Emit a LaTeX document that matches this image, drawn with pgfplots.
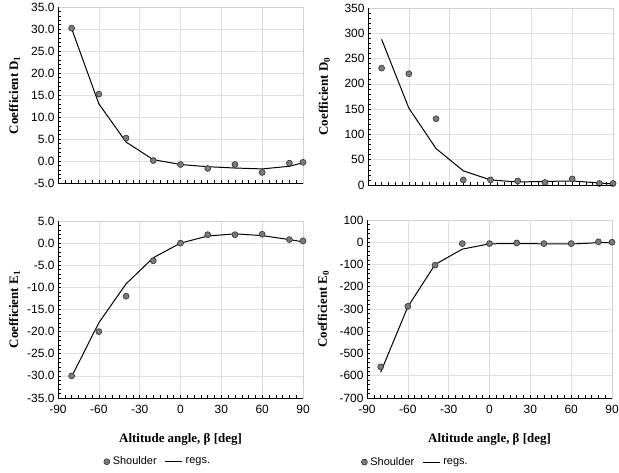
\documentclass[border=0pt]{standalone}
\usepackage{fontspec}
\setmainfont{Liberation Sans}
\newfontfamily\tnr{Liberation Serif}
\usepackage{pgfplots}
\pgfplotsset{compat=1.18}
\pgfplotsset{
 coefax/.style={
  scale only axis, width=245bp, height=177bp,
  xmin=-90, xmax=90, xtick={-90,-60,...,90}, minor x tick num=5, minor y tick num=4,
  axis line style={gray!35, line width=0.6pt},
  xtick pos=bottom, ytick pos=left,
  grid=major, major grid style={gray!25, line width=0.6pt},
  tick align=inside, tick style={black, line width=0.5pt},
  major tick length=3bp, minor tick length=3bp,
  clip=false,
  extra description/.code={\draw[black, line width=0.6pt] (0,1) -- (0,0) -- (1,0);},
  /pgf/number format/assume math mode=true,
  ticklabel style={font=\fontsize{12}{14}\selectfont},
  xticklabel style={yshift=-4bp},
  ylabel style={font=\tnr\bfseries\fontsize{13}{15}\selectfont, at={(axis description cs:-0.178,0.5)}, anchor=center},
  xlabel style={font=\tnr\bfseries\fontsize{13}{15}\selectfont, at={(axis description cs:0.5,-0.235)}, anchor=center},
  legend style={draw=none, fill=none, legend columns=2, anchor=center, font=\fontsize{11}{13}\selectfont,
     /tikz/every even column/.append style={column sep=5bp},
     nodes={inner xsep=3bp}},
  legend reversed=true,
 },
 onedec/.style={yticklabel style={/pgf/number format/.cd, fixed, fixed zerofill, precision=1}},
 regs/.style={black, line width=1pt, no marks},
 pts/.style={only marks, mark=*, mark size=3bp, mark options={fill=gray!70!black!80, draw=black!80, line width=0.6pt}},
}
\begin{document}
\begin{tikzpicture}[x=1bp,y=1bp]
\useasboundingbox (0,0) rectangle (619,473);
% top-left D1
\begin{axis}[coefax, onedec, at={(58bp,290bp)}, anchor=south west, height=176bp,
  ymin=-5, ymax=35, ytick={-5,0,...,35}, xticklabels={},
  ylabel={Coefficient D\textsubscript{1}}]
\addplot[regs] coordinates {(-80,30.1)(-60,13.0)(-40,4.3)(-20,0.3)(0,-0.8)(20,-1.3)(40,-1.6)(60,-1.8)(80,-1.2)(90,-0.4)};
\addplot[pts] coordinates {(-80,30.2)(-60,15.2)(-40,5.2)(-20,0.1)(0,-0.8)(20,-1.7)(40,-0.8)(60,-2.6)(80,-0.5)(90,-0.3)};
\end{axis}
% top-right D0
\begin{axis}[coefax, at={(368bp,288bp)}, anchor=south west,
  ymin=0, ymax=350, ytick={0,50,...,350}, xticklabels={},
  ylabel={Coefficient D\textsubscript{0}}]
\addplot[regs] coordinates {(-80,288)(-60,152)(-40,72)(-20,28)(0,10)(20,6)(40,7)(60,8)(80,4)(90,2)};
\addplot[pts] coordinates {(-80,231)(-60,220)(-40,131)(-20,10)(0,10)(20,8)(40,5)(60,12)(80,3)(90,3)};
\end{axis}
% bottom-left E1
\begin{axis}[coefax, onedec, at={(58bp,75bp)}, anchor=south west,
  ymin=-35, ymax=5, ytick={-35,-30,...,5},
  ylabel={Coefficient E\textsubscript{1}}, xlabel={Altitude angle, β [deg]},
  legend style={at={(axis description cs:0.41,-0.36)}}]
\addplot[regs] coordinates {(-80,-30.2)(-60,-18)(-40,-9.2)(-20,-3.3)(0,0)(20,1.6)(40,2.1)(60,1.7)(80,0.8)(90,0.3)};
\addlegendentry{regs.}
\addplot[pts] coordinates {(-80,-30)(-60,-20)(-40,-12)(-20,-4)(0,0)(20,1.9)(40,1.9)(60,2.0)(80,0.8)(90,0.5)};
\addlegendentry{Shoulder}
\end{axis}
% bottom-right E0
\begin{axis}[coefax, at={(367bp,75bp)}, anchor=south west, height=178bp,
  ymin=-700, ymax=100, ytick={-700,-600,...,100},
  ylabel={Coefficient E\textsubscript{0}}, xlabel={Altitude angle, β [deg]},
  legend style={at={(axis description cs:0.2,-0.36)}}]
\addplot[regs] coordinates {(-80,-585)(-60,-290)(-40,-100)(-20,-31)(0,-7)(20,-6)(40,-7)(60,-8)(80,-2)(90,-1)};
\addlegendentry{regs.}
\addplot[pts] coordinates {(-80,-560)(-60,-288)(-40,-103)(-20,-6)(0,-6)(20,-3)(40,-6)(60,-6)(80,2)(90,0)};
\addlegendentry{Shoulder}
\end{axis}
\end{tikzpicture}
\end{document}
